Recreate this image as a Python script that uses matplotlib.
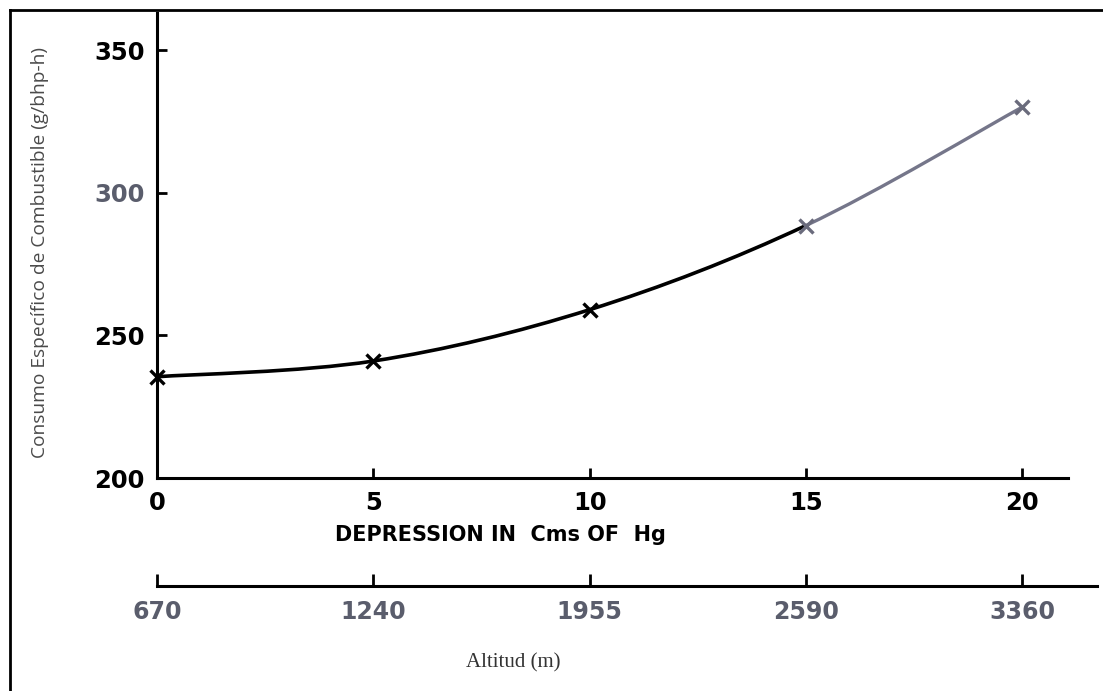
import matplotlib.pyplot as plt
from matplotlib.path import Path
from matplotlib.patches import PathPatch
from matplotlib.lines import Line2D

# valores del grafico
depresion = [0, 5, 10, 15, 20]
consumo = [235.5, 241, 259, 288.5, 330]
altitud = ['670', '1240', '1955', '2590', '3360']
y_ticks = [200, 250, 300, 350]
y_colores = ['black', 'black', '#5a5d6c', 'black']

W, H = 1103, 691
fig = plt.figure(figsize=(W / 100, H / 100), dpi=100)


def px(x0, y0, x1, y1):
    # caja en pixeles -> coordenadas de figura
    return [x0 / W, 1 - y1 / H, (x1 - x0) / W, (y1 - y0) / H]


ax = fig.add_axes(px(157, 13, 1068, 478))
ax.set_xlim(0, 21.06)
ax.set_ylim(200, 363)
for s in ['top', 'right']:
    ax.spines[s].set_visible(False)
for s in ['left', 'bottom']:
    ax.spines[s].set_linewidth(2.2)

ax.set_xticks(depresion)
ax.set_yticks(y_ticks)
ax.tick_params(axis='both', direction='in', length=7, width=2,
               labelsize=17.5)
ax.tick_params(axis='x', pad=9)
ax.tick_params(axis='y', pad=9)
for lab in ax.get_xticklabels():
    lab.set_fontweight('bold')
for lab, c in zip(ax.get_yticklabels(), y_colores):
    lab.set_fontweight('bold')
    lab.set_color(c)


# curva suave (Catmull-Rom pasada a Bezier) entre los puntos
def tramo(i):
    n = len(depresion)
    p = [(depresion[k], consumo[k]) for k in range(n)]
    a = p[max(i - 1, 0)]
    b = p[i]
    c = p[i + 1]
    d = p[min(i + 2, n - 1)]
    c1 = (b[0] + (c[0] - a[0]) / 6, b[1] + (c[1] - a[1]) / 6)
    c2 = (c[0] - (d[0] - b[0]) / 6, c[1] - (d[1] - b[1]) / 6)
    return [b, c1, c2, c]


codes = [Path.MOVETO, Path.CURVE4, Path.CURVE4, Path.CURVE4]
verts = []
cods = []
for i in range(3):
    v = tramo(i)
    if i == 0:
        verts += v
        cods += codes
    else:
        verts += v[1:]
        cods += codes[1:]
ax.add_patch(PathPatch(Path(verts, cods), fill=False, color='black',
                       lw=2.6, clip_on=False))
ax.add_patch(PathPatch(Path(tramo(3), codes), fill=False, color='#75768a',
                       lw=2.4, clip_on=False))

ax.plot(depresion[:3], consumo[:3], 'x', color='black', ms=10, mew=2.4,
        clip_on=False)
ax.plot(depresion[3:], consumo[3:], 'x', color='#6a6b7c', ms=10, mew=2.4,
        clip_on=False)

fig.text(500 / W, 1 - 535 / H, 'DEPRESSION IN  Cms OF  Hg', ha='center',
         va='center', fontsize=15, fontweight='bold')

# eje de altitud
ax2 = fig.add_axes(px(157, 500, 1097, 586))
ax2.set_xlim(0, 21.73)
ax2.set_ylim(0, 1)
ax2.patch.set_visible(False)
for s in ['top', 'right', 'left']:
    ax2.spines[s].set_visible(False)
ax2.spines['bottom'].set_linewidth(2.2)
ax2.set_yticks([])
ax2.set_xticks(depresion)
ax2.set_xticklabels(altitud)
ax2.tick_params(axis='x', direction='in', length=9, width=2, pad=10,
                labelsize=17, labelcolor='#5a5d6c')
for lab in ax2.get_xticklabels():
    lab.set_fontweight('bold')

fig.text(513 / W, 1 - 663 / H, 'Altitud (m)', ha='center', va='center',
         fontsize=15, family='Liberation Serif', color='#333333')
fig.text(40 / W, 1 - 252 / H, 'Consumo Específico de Combustible (g/bhp-h)',
         rotation=90, ha='center', va='center', fontsize=13.8,
         family='Open Sans', color='#4a4a4a')

# marco
fig.add_artist(Line2D([10 / W, 1], [1 - 10 / H, 1 - 10 / H],
                      transform=fig.transFigure, color='black', lw=2))
fig.add_artist(Line2D([10 / W, 10 / W], [0, 1 - 10 / H],
                      transform=fig.transFigure, color='black', lw=2))

fig.savefig('out.png', dpi=100)
